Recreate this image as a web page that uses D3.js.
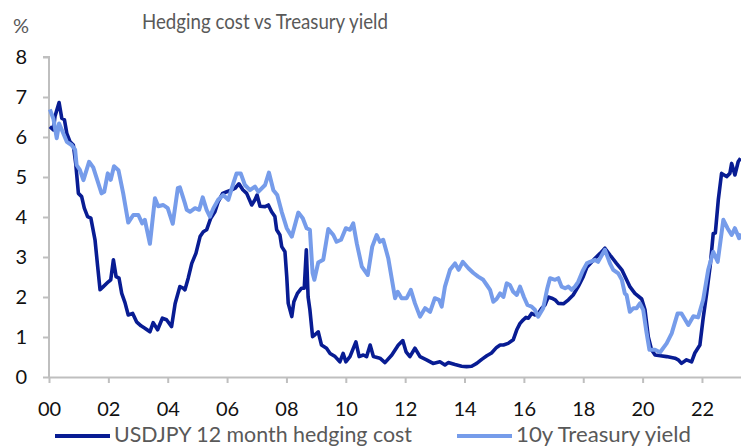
<!DOCTYPE html>
<html lang="en">
<head>
    <meta charset="UTF-8">
    <title>Hedging cost vs Treasury yield</title>
    <script src="https://cdn.jsdelivr.net/npm/d3@7"></script>
    <style>
        body {
            margin: 0;
            background: #fff;
            font-family: Lato, "Open Sans", sans-serif;
        }
        svg { display: block; }
    </style>
</head>
<body>
    <div id="chart"></div>

    <script>
        // years since 2000 and values (%)
        const hedgeYears = [0.03, 0.15, 0.2, 0.34, 0.43, 0.52, 0.6, 0.71, 0.82, 0.9, 0.99, 1.1, 1.19, 1.3, 1.41, 1.55, 1.64, 1.72, 1.83, 2.0,
            2.08, 2.17, 2.26, 2.36, 2.45, 2.56, 2.67, 2.82, 2.95, 3.1, 3.23, 3.4, 3.51, 3.66, 3.82, 3.96, 4.13, 4.25, 4.41, 4.52,
            4.58, 4.69, 4.81, 4.95, 5.09, 5.2, 5.31, 5.45, 5.59, 5.7, 5.85, 5.99, 6.16, 6.27, 6.4, 6.53, 6.66, 6.83, 6.94, 7.01,
            7.11, 7.28, 7.39, 7.5, 7.61, 7.67, 7.78, 7.84, 7.95, 8.01, 8.06, 8.18, 8.25, 8.37, 8.51, 8.6, 8.67, 8.73, 8.79, 8.88,
            8.95, 9.07, 9.18, 9.35, 9.47, 9.64, 9.8, 9.91, 10.0, 10.14, 10.34, 10.45, 10.59, 10.7, 10.82, 10.93, 11.15, 11.32, 11.55, 11.77,
            11.92, 12.03, 12.16, 12.33, 12.5, 12.72, 12.94, 13.17, 13.34, 13.45, 13.68, 13.9, 14.07, 14.24, 14.41, 14.58, 14.75, 14.91, 15.08, 15.2,
            15.31, 15.47, 15.64, 15.76, 15.87, 15.98, 16.07, 16.15, 16.26, 16.37, 16.48, 16.6, 16.71, 16.82, 16.94, 17.05, 17.16, 17.33, 17.5, 17.66,
            17.83, 18.0, 18.12, 18.4, 18.57, 18.73, 18.9, 19.12, 19.3, 19.46, 19.57, 19.74, 19.97, 20.08, 20.19, 20.3, 20.42, 20.6, 20.81, 21.09,
            21.2, 21.31, 21.48, 21.65, 21.76, 21.93, 22.04, 22.16, 22.28, 22.38, 22.45, 22.55, 22.66, 22.83, 22.94, 23.0, 23.11, 23.22, 23.3];
        const hedgeValues = [6.26, 6.18, 6.51, 6.86, 6.47, 6.43, 6.09, 5.88, 5.8, 5.34, 4.59, 4.51, 4.22, 4.01, 3.97, 3.43, 2.76, 2.18, 2.26, 2.38,
            2.43, 2.93, 2.51, 2.47, 2.09, 1.86, 1.55, 1.59, 1.38, 1.28, 1.22, 1.13, 1.36, 1.18, 1.47, 1.43, 1.26, 1.84, 2.26, 2.22,
            2.18, 2.47, 2.84, 3.09, 3.51, 3.63, 3.68, 3.97, 4.13, 4.38, 4.59, 4.63, 4.68, 4.72, 4.83, 4.68, 4.59, 4.3, 4.43, 4.55,
            4.27, 4.26, 4.3, 4.13, 4.01, 3.68, 3.55, 3.26, 3.13, 2.51, 1.84, 1.51, 1.88, 2.09, 2.22, 2.22, 3.18, 2.0, 1.68, 1.01,
            1.05, 1.13, 0.8, 0.72, 0.59, 0.51, 0.38, 0.59, 0.38, 0.51, 0.88, 0.51, 0.55, 0.51, 0.8, 0.51, 0.47, 0.36, 0.55, 0.8,
            0.91, 0.63, 0.51, 0.72, 0.51, 0.43, 0.34, 0.38, 0.3, 0.36, 0.31, 0.27, 0.26, 0.27, 0.34, 0.44, 0.53, 0.6, 0.74, 0.8,
            0.8, 0.84, 0.93, 1.18, 1.34, 1.43, 1.49, 1.47, 1.59, 1.55, 1.59, 1.72, 1.8, 2.0, 1.97, 1.93, 1.84, 1.83, 1.93, 2.05,
            2.26, 2.51, 2.74, 2.97, 3.09, 3.22, 3.05, 2.84, 2.68, 2.43, 2.26, 2.09, 1.95, 1.68, 1.01, 0.68, 0.55, 0.53, 0.51, 0.47,
            0.43, 0.34, 0.43, 0.38, 0.6, 0.8, 1.47, 2.1, 2.8, 3.59, 3.6, 4.43, 5.09, 5.01, 5.09, 5.34, 5.05, 5.38, 5.47];

        const yieldYears = [0.03, 0.15, 0.26, 0.34, 0.43, 0.6, 0.76, 0.88, 0.93, 1.04, 1.16, 1.35, 1.49, 1.77, 1.86, 1.98, 2.08, 2.19, 2.34, 2.5,
            2.67, 2.84, 3.01, 3.14, 3.23, 3.4, 3.57, 3.68, 3.85, 4.0, 4.17, 4.34, 4.41, 4.58, 4.64, 4.75, 4.92, 5.06, 5.18, 5.31,
            5.42, 5.54, 5.7, 5.87, 6.04, 6.21, 6.32, 6.46, 6.6, 6.77, 6.94, 7.05, 7.28, 7.41, 7.56, 7.69, 7.84, 8.01, 8.18, 8.4,
            8.55, 8.68, 8.79, 8.88, 8.94, 9.07, 9.24, 9.41, 9.58, 9.69, 9.84, 10.0, 10.14, 10.25, 10.37, 10.54, 10.74, 10.89, 11.04, 11.15,
            11.26, 11.43, 11.66, 11.75, 11.88, 12.05, 12.19, 12.33, 12.5, 12.67, 12.84, 13.0, 13.14, 13.23, 13.34, 13.51, 13.68, 13.8, 13.94, 14.13,
            14.3, 14.46, 14.63, 14.75, 14.86, 14.97, 15.08, 15.2, 15.31, 15.42, 15.53, 15.64, 15.76, 15.87, 16.0, 16.12, 16.26, 16.37, 16.48, 16.65,
            16.79, 16.88, 17.05, 17.16, 17.27, 17.39, 17.5, 17.61, 17.72, 17.83, 17.98, 18.12, 18.23, 18.4, 18.5, 18.73, 18.9, 19.01, 19.18, 19.3,
            19.4, 19.46, 19.57, 19.69, 19.8, 19.91, 20.02, 20.13, 20.23, 20.42, 20.59, 20.81, 20.98, 21.18, 21.31, 21.54, 21.71, 21.87, 22.04, 22.21,
            22.38, 22.53, 22.72, 22.86, 23.0, 23.11, 23.25, 23.31];
        const yieldValues = [6.69, 6.45, 5.97, 6.34, 6.18, 5.88, 5.8, 5.68, 5.3, 5.18, 4.92, 5.38, 5.24, 4.59, 4.63, 5.09, 4.93, 5.27, 5.17, 4.59,
            3.86, 4.05, 4.05, 3.84, 3.93, 3.33, 4.47, 4.27, 4.3, 4.22, 3.83, 4.72, 4.74, 4.34, 4.18, 4.13, 4.22, 4.18, 4.49, 4.18,
            4.01, 4.22, 4.43, 4.55, 4.43, 4.84, 5.09, 5.09, 4.8, 4.67, 4.76, 4.63, 4.8, 5.11, 4.67, 4.55, 4.13, 3.72, 3.51, 4.11,
            3.97, 3.72, 3.68, 2.6, 2.43, 2.86, 2.93, 3.7, 3.55, 3.38, 3.43, 3.72, 3.68, 3.84, 3.34, 2.76, 2.55, 3.26, 3.55, 3.38,
            3.43, 2.97, 1.97, 2.13, 1.97, 1.97, 2.18, 1.84, 1.51, 1.72, 1.63, 1.97, 1.93, 1.76, 2.26, 2.68, 2.84, 2.68, 2.88, 2.72,
            2.6, 2.51, 2.43, 2.3, 2.18, 1.88, 1.95, 2.09, 2.0, 2.34, 2.3, 2.13, 2.05, 2.26, 2.0, 1.8, 1.76, 1.68, 1.51, 1.72,
            2.22, 2.47, 2.43, 2.47, 2.26, 2.22, 2.26, 2.18, 2.26, 2.38, 2.65, 2.84, 2.88, 2.93, 2.88, 3.18, 2.84, 2.68, 2.59, 2.43,
            2.09, 2.05, 1.63, 1.72, 1.72, 1.84, 1.68, 1.12, 0.68, 0.68, 0.62, 0.84, 1.09, 1.59, 1.59, 1.3, 1.52, 1.49, 1.93, 2.68,
            3.13, 2.88, 3.93, 3.72, 3.55, 3.72, 3.47, 3.59];

        const seriesNames = ["USDJPY 12 month hedging cost", "10y Treasury yield"];
        const seriesColors = ["#081c93", "#769cea"];
        const xTicks = [0, 2, 4, 6, 8, 10, 12, 14, 16, 18, 20, 22];
        const yTicks = [0, 1, 2, 3, 4, 5, 6, 7, 8];

        const width = 741, height = 447;
        const axisColor = "#bfbfbf";
        const textGray = "#595959";

        const svg = d3.select("#chart").append("svg")
            .attr("width", width)
            .attr("height", height);

        const x = d3.scaleLinear().domain([0, 23.315]).range([49, 741]);
        const y = d3.scaleLinear().domain([0, 8]).range([377, 57]);

        // title and unit
        svg.append("text")
            .attr("x", 142)
            .attr("y", 29)
            .attr("font-size", "21px")
            .attr("textLength", 246)
            .attr("lengthAdjust", "spacingAndGlyphs")
            .attr("fill", textGray)
            .text("Hedging cost vs Treasury yield");

        svg.append("text")
            .attr("x", 13)
            .attr("y", 33)
            .attr("font-size", "20px")
            .attr("fill", textGray)
            .text("%");

        // axes
        const yAxis = svg.append("g")
            .attr("transform", `translate(${x(0)},0)`)
            .call(d3.axisLeft(y).tickValues(yTicks).tickSize(6).tickPadding(16).tickFormat(d3.format("d")));

        const xAxis = svg.append("g")
            .attr("transform", `translate(0,${y(0)})`)
            .call(d3.axisBottom(x).tickValues(xTicks).tickSize(6).tickPadding(19)
                .tickFormat(d => String(d).padStart(2, "0")));

        [yAxis, xAxis].forEach(g => {
            g.select(".domain").attr("stroke", axisColor).attr("stroke-width", 2);
            g.selectAll(".tick line").attr("stroke", axisColor).attr("stroke-width", 2);
            g.selectAll(".tick text")
                .attr("fill", "#111")
                .attr("font-size", "20px")
                .attr("font-family", "Lato, sans-serif");
        });
        xAxis.select(".domain").attr("d", `M${x(0)},0.5H${width}`);
        yAxis.select(".domain").attr("d", `M-6,${y(8)}H0V${y(0)}`);

        // lines
        const line = d3.line()
            .x(d => x(d[0]))
            .y(d => y(d[1]));

        const hedge = hedgeYears.map((t, i) => [t, hedgeValues[i]]);
        const yld = yieldYears.map((t, i) => [t, yieldValues[i]]);

        svg.append("path")
            .datum(hedge)
            .attr("d", line)
            .attr("fill", "none")
            .attr("stroke", seriesColors[0])
            .attr("stroke-width", 3.6)
            .attr("stroke-linejoin", "round");

        svg.append("path")
            .datum(yld)
            .attr("d", line)
            .attr("fill", "none")
            .attr("stroke", seriesColors[1])
            .attr("stroke-width", 4)
            .attr("stroke-linejoin", "round");

        // legend
        const legendX = [55, 457];
        const legendTextWidth = [298, 175];
        const legend = svg.append("g");
        seriesNames.forEach((name, i) => {
            legend.append("line")
                .attr("x1", legendX[i])
                .attr("x2", legendX[i] + 55)
                .attr("y1", 436)
                .attr("y2", 436)
                .attr("stroke", seriesColors[i])
                .attr("stroke-width", 4);
            legend.append("text")
                .attr("x", legendX[i] + 59)
                .attr("y", 442)
                .attr("font-size", "21px")
                .attr("textLength", legendTextWidth[i])
                .attr("lengthAdjust", "spacingAndGlyphs")
                .attr("fill", textGray)
                .text(name);
        });
    </script>
</body>
</html>
